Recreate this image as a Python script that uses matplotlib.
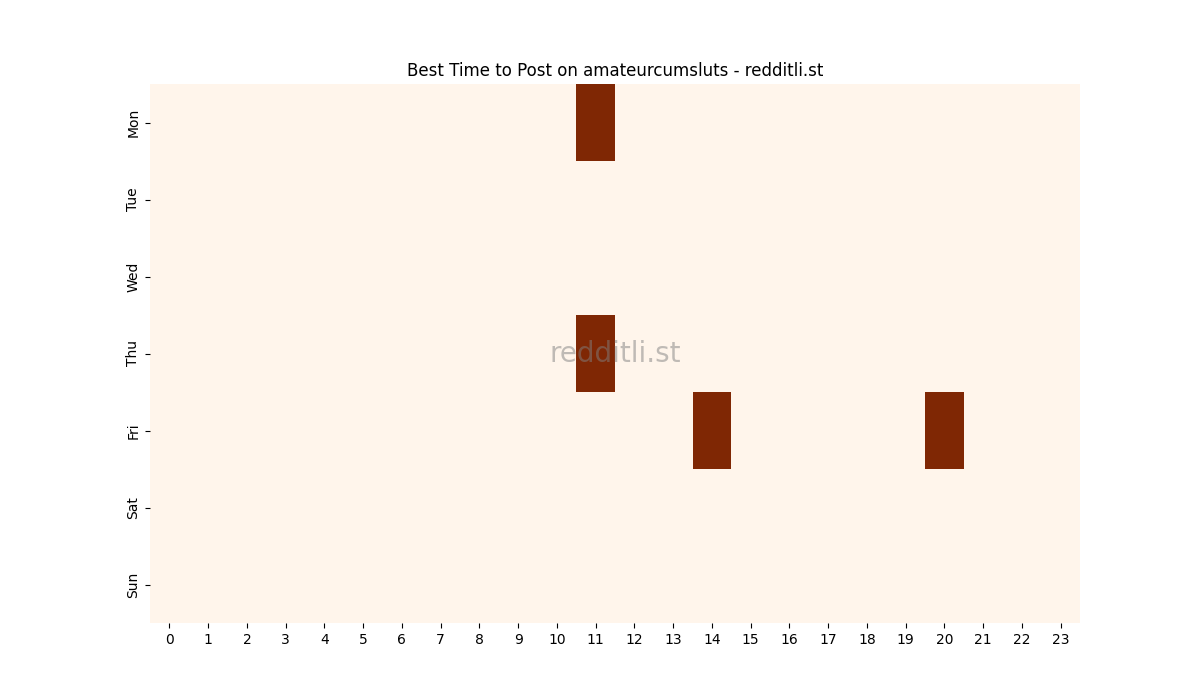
import matplotlib
matplotlib.use("Agg")
import matplotlib.pyplot as plt
import seaborn as sns
import numpy as np

days = ["Mon", "Tue", "Wed", "Thu", "Fri", "Sat", "Sun"]
hours = list(range(24))
hot_cells = [("Mon", 11), ("Thu", 11), ("Fri", 14), ("Fri", 20)]

data = np.zeros((len(days), len(hours)))
for d, h in hot_cells:
    data[days.index(d), h] = 1

fig, ax = plt.subplots(figsize=(12, 7), dpi=100)
sns.heatmap(data, cmap="Oranges", cbar=False, xticklabels=hours, yticklabels=days, ax=ax)
ax.set_title("Best Time to Post on amateurcumsluts - redditli.st")
ax.tick_params(axis="x", rotation=0)
ax.text(0.5, 0.5, "redditli.st", transform=ax.transAxes, ha="center", va="center",
        fontsize=20, color="gray", alpha=0.5)
fig.savefig("out.png")
